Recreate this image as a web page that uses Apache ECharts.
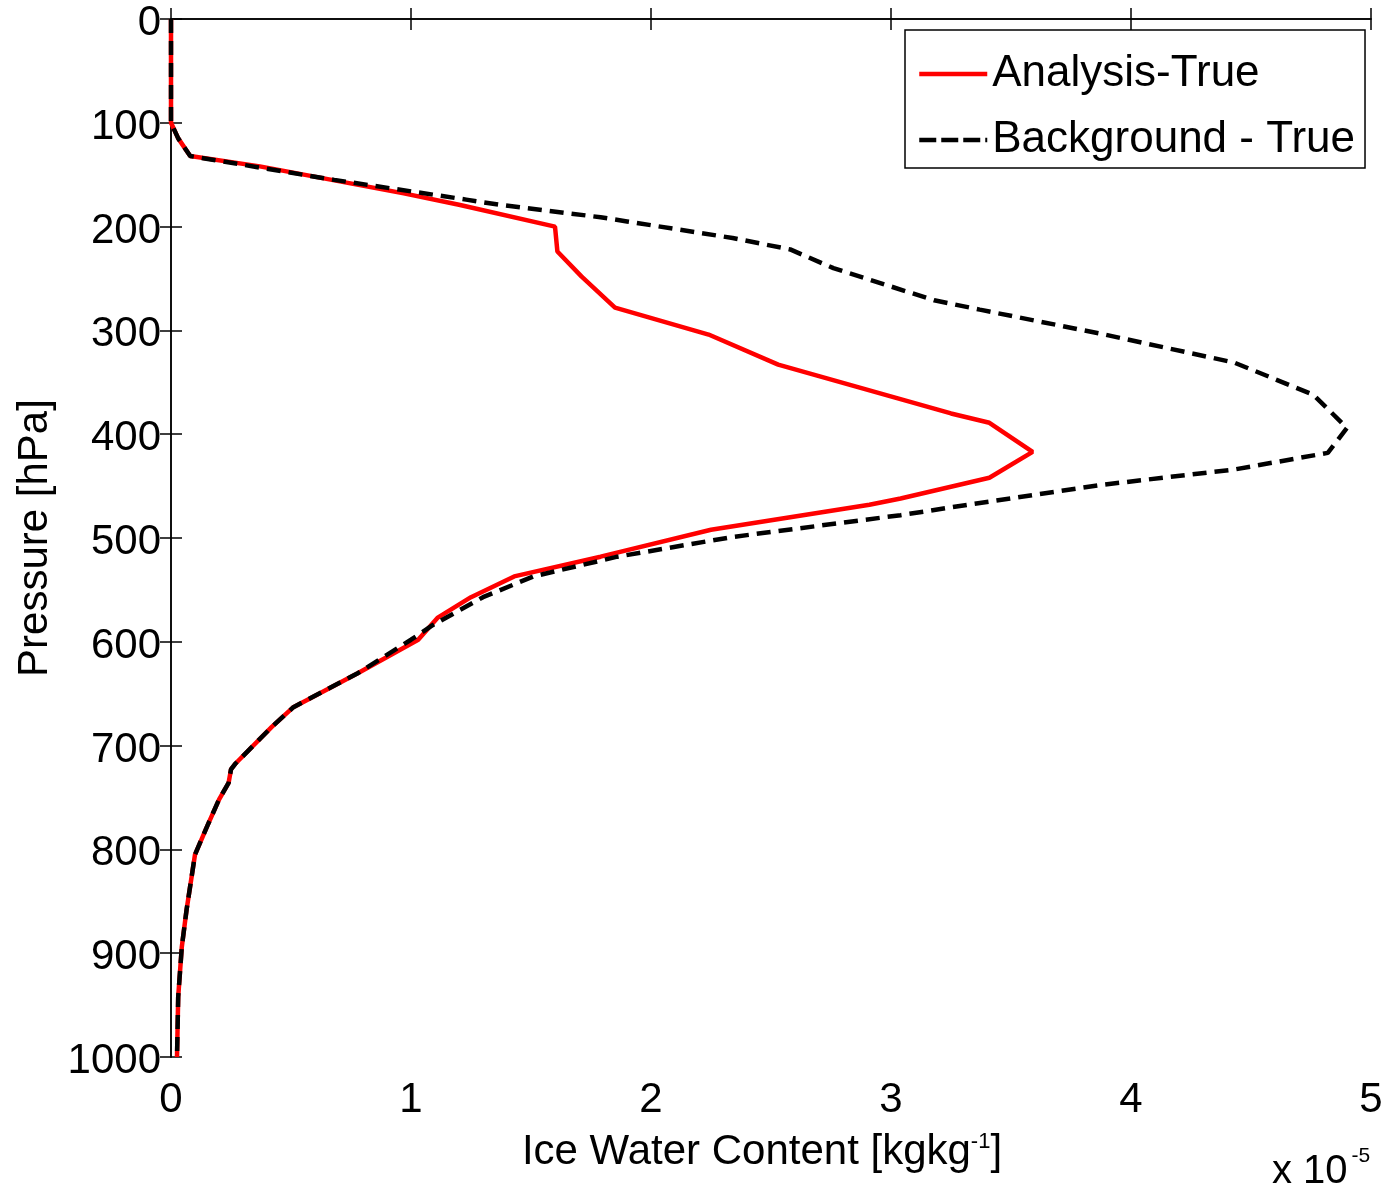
<!DOCTYPE html>
<html>
<head>
<meta charset="utf-8">
<title>Ice Water Content profile</title>
<script src="https://cdn.jsdelivr.net/npm/echarts@6/dist/echarts.min.js"></script>
<style>
  html, body { margin: 0; padding: 0; background: #ffffff; }
  #chart { width: 1393px; height: 1190px; }
</style>
</head>
<body>
<div id="chart"></div>
<script>
// Ice water content differences (units of 1e-5 kg/kg) against pressure (hPa)
const analysisPressure = [0, 100, 115, 132, 142, 168, 179, 200, 224, 248, 278, 304, 333, 380, 389, 417, 442, 462, 468, 492, 518, 537, 557, 577, 598, 630, 663, 682, 717, 723, 736, 752, 778, 805, 858, 894, 942, 1000];
const analysisIWC      = [0, 0, 0.03, 0.08, 0.37, 0.97, 1.2, 1.6, 1.61, 1.71, 1.85, 2.24, 2.53, 3.25, 3.41, 3.59, 3.41, 3.04, 2.91, 2.25, 1.79, 1.43, 1.25, 1.11, 1.03, 0.78, 0.51, 0.42, 0.27, 0.25, 0.24, 0.2, 0.15, 0.1, 0.065, 0.045, 0.03, 0.025];

const backgroundPressure = [0, 100, 115, 132, 155, 174, 179, 191, 195, 211, 222, 240, 271, 280, 303, 331, 362, 394, 418, 434, 449, 468, 478, 499, 518, 537, 557, 584, 598, 630, 663, 682, 717, 723, 736, 752, 778, 805, 858, 894, 942, 1000];
const backgroundIWC      = [0, 0, 0.03, 0.08, 0.68, 1.23, 1.37, 1.79, 1.9, 2.34, 2.58, 2.76, 3.18, 3.37, 3.87, 4.43, 4.76, 4.9, 4.82, 4.43, 3.87, 3.32, 3.04, 2.34, 1.86, 1.51, 1.3, 1.09, 1.0, 0.78, 0.51, 0.42, 0.27, 0.25, 0.24, 0.2, 0.15, 0.1, 0.065, 0.045, 0.03, 0.025];

const xTicks = [0, 1, 2, 3, 4, 5];
const yTicks = [0, 100, 200, 300, 400, 500, 600, 700, 800, 900, 1000];

const seriesNames = ['Analysis-True', 'Background - True'];

const FONT = '"Liberation Sans", Arial, Helvetica, sans-serif';

function pairs(values, pressures) {
  return values.map((v, i) => [v, pressures[i]]);
}

const chart = echarts.init(document.getElementById('chart'), null, { renderer: 'canvas' });

const tickStyle = { show: true, inside: true, length: 11, lineStyle: { color: '#000', width: 1.5 } };
const lineStyleAxis = { show: true, lineStyle: { color: '#000', width: 1.5 } };

chart.setOption({
  animation: false,
  backgroundColor: '#ffffff',
  grid: { left: 171, right: 22, top: 19, bottom: 133, containLabel: false },
  legend: {
    data: [
      { name: seriesNames[0], lineStyle: { color: '#ff0000', width: 4.5, type: 'solid' } },
      { name: seriesNames[1], lineStyle: { color: '#000000', width: 4.5, type: [17, 5] } }
    ],
    orient: 'vertical',
    left: 905,
    top: 30,
    padding: [22, 10, 6, 12],
    itemGap: 22,
    itemWidth: 68,
    itemHeight: 44,
    itemStyle: { opacity: 0 },
    borderColor: '#000',
    borderWidth: 1.5,
    backgroundColor: '#fff',
    selectedMode: false,
    textStyle: { fontFamily: FONT, fontSize: 44, color: '#000', lineHeight: 44 }
  },
  xAxis: [
    {
      type: 'value', position: 'bottom', min: 0, max: 5, interval: 1,
      axisLine: lineStyleAxis, axisTick: tickStyle, splitLine: { show: false },
      axisLabel: {
        fontFamily: FONT, fontSize: 42, color: '#000', margin: 22,
        customValues: xTicks, formatter: v => String(v)
      },
      name: 'Ice Water Content [kgkg{sup|-1}]',
      nameLocation: 'middle', nameGap: 74,
      nameTextStyle: {
        fontFamily: FONT, fontSize: 42, color: '#000', padding: [0, 18, 0, 0],
        rich: { sup: { fontFamily: FONT, fontSize: 22, color: '#000', verticalAlign: 'top', padding: [0, 0, 18, 0] } }
      }
    },
    {
      type: 'value', position: 'top', min: 0, max: 5, interval: 1,
      axisLine: lineStyleAxis, axisTick: tickStyle, axisLabel: { show: false }, splitLine: { show: false }
    }
  ],
  yAxis: [
    {
      type: 'value', position: 'left', inverse: true, min: 0, max: 1000, interval: 100,
      axisLine: lineStyleAxis, axisTick: tickStyle, splitLine: { show: false },
      axisLabel: {
        color: '#000', margin: 10,
        customValues: yTicks, formatter: v => '{t|' + v + '}',
        rich: { t: { fontFamily: FONT, fontSize: 42, color: '#000', padding: [9, 0, 0, 0] } }
      },
      name: 'Pressure [hPa]',
      nameLocation: 'middle', nameGap: 112,
      nameTextStyle: { fontFamily: FONT, fontSize: 42, color: '#000' }
    },
    {
      type: 'value', position: 'right', inverse: true, min: 0, max: 1000, interval: 100,
      axisLine: lineStyleAxis, axisTick: tickStyle, axisLabel: { show: false }, splitLine: { show: false }
    }
  ],
  graphic: [
    {
      type: 'text', left: 1272, top: 1146,
      style: {
        text: 'x 10{sup|-5}',
        fontFamily: FONT, fontSize: 40, fill: '#000',
        rich: { sup: { fontFamily: FONT, fontSize: 21, fill: '#000', verticalAlign: 'top', padding: [0, 0, 30, 4] } }
      }
    }
  ],
  series: [
    {
      name: seriesNames[0], type: 'line', xAxisIndex: 0, yAxisIndex: 0,
      data: pairs(analysisIWC, analysisPressure),
      symbol: 'none', showSymbol: false, smooth: false,
      lineStyle: { color: '#ff0000', width: 4.5 },
      itemStyle: { color: '#ff0000' },
      z: 2
    },
    {
      name: seriesNames[1], type: 'line', xAxisIndex: 0, yAxisIndex: 0,
      data: pairs(backgroundIWC, backgroundPressure),
      symbol: 'none', showSymbol: false, smooth: false,
      lineStyle: { color: '#000000', width: 4.5, type: [14, 8] },
      itemStyle: { color: '#000000' },
      z: 3
    }
  ]
});
</script>
</body>
</html>
